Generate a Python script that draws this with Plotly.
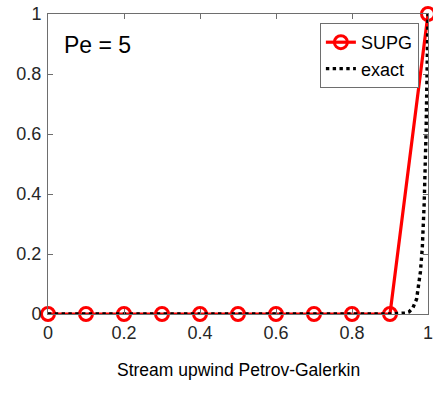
import plotly.graph_objects as go

# SUPG nodal solution on a uniform mesh of 10 elements
x_supg = [0.0, 0.1, 0.2, 0.3, 0.4, 0.5, 0.6, 0.7, 0.8, 0.9, 1.0]
u_supg = [0, 0, 0, 0, 0, 0, 0, 0, 0, 0, 1]

# exact boundary-layer solution
x_exact = [0.0, 0.9, 0.94, 0.95, 0.96, 0.97, 0.98, 0.985, 0.99, 0.995, 1.0]
u_exact = [0.0, 0.0, 0.003, 0.007, 0.02, 0.05, 0.14, 0.22, 0.37, 0.61, 1.0]

x_ticks = [0, 0.2, 0.4, 0.6, 0.8, 1]
x_tick_text = ["0", "0.2", "0.4", "0.6", "0.8", "1"]
y_ticks = [0, 0.2, 0.4, 0.6, 0.8, 1]
y_tick_text = ["0", "0.2", "0.4", "0.6", "0.8", "1"]

font_family = "Liberation Sans, Arial, sans-serif"
axis_color = "#6e6e6e"

fig = go.Figure()
fig.add_trace(go.Scatter(
    x=x_supg, y=u_supg, name="SUPG", mode="lines+markers",
    line=dict(color="#ff0000", width=3.2),
    marker=dict(symbol="circle-open", size=13, color="#ff0000", line=dict(width=3, color="#ff0000")),
    cliponaxis=False,
))
fig.add_trace(go.Scatter(
    x=x_exact, y=u_exact, name="exact", mode="lines",
    line=dict(color="#000000", width=3.4, dash="dot"),
    cliponaxis=False,
))

axis_common = dict(
    showgrid=False, zeroline=False, showline=True, linecolor=axis_color, linewidth=1,
    mirror="ticks", ticks="inside", ticklen=5, tickcolor=axis_color,
    tickfont=dict(family=font_family, size=18, color="#262626"),
    ticklabeloverflow="allow", ticklabelstandoff=2, automargin=False,
)
fig.update_xaxes(range=[0, 1], tickvals=x_ticks, ticktext=x_tick_text, **axis_common)
fig.update_yaxes(range=[0, 1], tickvals=y_ticks, ticktext=y_tick_text, **axis_common)

fig.add_annotation(
    x=0.038, y=0.897, xref="paper", yref="paper", text="Pe = 5", showarrow=False,
    xanchor="left", yanchor="middle", font=dict(family=font_family, size=23, color="#000000"),
)
# caption below the axes
fig.add_annotation(
    x=0.5, y=-(370 - 314) / 300.0, xref="paper", yref="paper", yanchor="middle",
    text="Stream upwind Petrov-Galerkin",
    showarrow=False, font=dict(family=font_family, size=17.5, color="#000000"),
)

fig.update_layout(
    width=433, height=405,
    margin=dict(l=48, r=5, t=14, b=91),
    plot_bgcolor="white", paper_bgcolor="white",
    legend=dict(
        x=0.976, y=0.97, xanchor="right", yanchor="top",
        bgcolor="white", bordercolor=axis_color, borderwidth=1,
        font=dict(family=font_family, size=18, color="#000000"),
        itemwidth=30, tracegroupgap=0,
    ),
    showlegend=True,
)

fig.write_html("out.html")
